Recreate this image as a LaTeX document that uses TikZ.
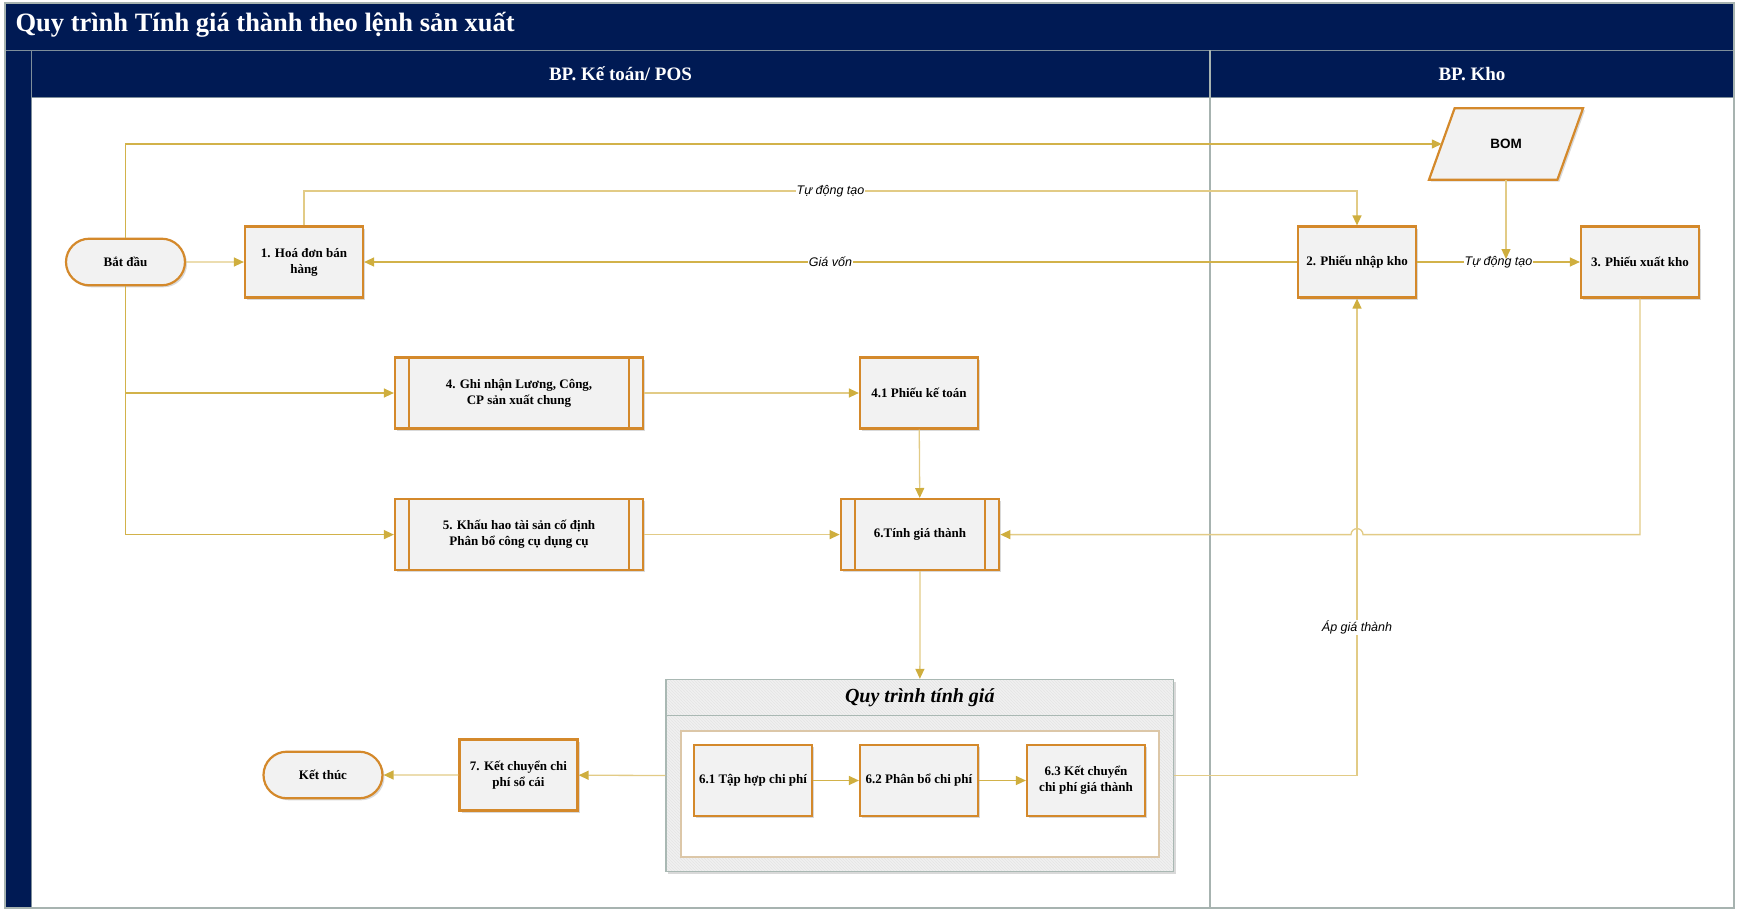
\documentclass[tikz,border=0pt]{standalone}
\usepackage{fontspec}
\setmainfont{Liberation Serif}
\setsansfont{Liberation Sans}
\usepackage{xcolor}
\usepackage{tikz}
\usetikzlibrary{positioning,calc,arrows.meta,shapes.geometric,shapes.misc,patterns,shadows}

\definecolor{navy}{HTML}{001A54}
\definecolor{laneline}{HTML}{7E8E9A}
\definecolor{frameline}{HTML}{A7B3B0}
\definecolor{nodeorange}{HTML}{D4892B}
\definecolor{nodefill}{HTML}{F2F2F2}
\definecolor{flowgold}{HTML}{D2B24A}
\definecolor{flowlight}{HTML}{E2CB86}
\definecolor{tipgold}{HTML}{CFAE3E}
\definecolor{grpborder}{HTML}{A9B8B3}
\definecolor{innerborder}{HTML}{DCC7A8}

\pgfdeclarelayer{background}
\pgfsetlayers{background,main}

\tikzset{
    softshadow/.style={drop shadow={shadow xshift=2pt, shadow yshift=-2pt, opacity=.25, fill=black!60}},
    task/.style={rectangle, draw=nodeorange, line width=2.2pt, fill=nodefill, softshadow,
        minimum width=118pt, minimum height=71pt, align=center, inner sep=2pt,
        font=\bfseries\fontsize{13}{16}\selectfont},
    subproc/.style={task, path picture={
        \draw[nodeorange, line width=2pt]
            ([xshift=14pt]path picture bounding box.north west) -- ([xshift=14pt]path picture bounding box.south west)
            ([xshift=-14pt]path picture bounding box.north east) -- ([xshift=-14pt]path picture bounding box.south east);}},
    terminal/.style={task, rounded rectangle, minimum width=123pt, minimum height=46.6pt},
    datain/.style={rectangle, minimum width=128pt, minimum height=71pt,
        font=\sffamily\bfseries\fontsize{13.5}{16}\selectfont},
    datashape/.style={draw=nodeorange, line width=2.2pt, fill=nodefill, softshadow, line join=miter},
    flow/.style={draw=flowgold, line width=1.3pt, -{Triangle[length=10pt, width=9pt, color=tipgold]}},
    flowpale/.style={flow, draw=flowlight},
    lbl/.style={fill=white, inner sep=1pt, font=\sffamily\itshape\fontsize{12.5}{15}\selectfont},
    lanetitle/.style={text=white, font=\bfseries\fontsize{19}{22}\selectfont},
    group/.style={rectangle, draw=grpborder, line width=1.3pt, preaction={fill=black!6, softshadow},
        pattern=north west lines, pattern color=black!10, minimum width=507.6pt, minimum height=192pt},
}

\begin{document}
\begin{tikzpicture}[x=1pt, y=-1pt]
    \useasboundingbox (0,0) rectangle (1741,916);

    % khung va cac lan
    \fill[navy] (5,3) rectangle (1734,97);
    \fill[navy] (5,97) rectangle (31,908);
    \draw[laneline, line width=1pt] (5,50) -- (1734,50);
    \draw[laneline, line width=1pt] (31,50) -- (31,908);
    \draw[laneline, line width=1pt] (31,97) -- (1734,97);
    \draw[frameline, line width=2pt] (1210,50) -- (1210,908);
    \draw[frameline, line width=1.5pt] (5,3) rectangle (1734,908);

    \node[anchor=west, text=white, font=\bfseries\fontsize{26.5}{30}\selectfont] (title) at (12,25)
        {Quy trình Tính giá thành theo lệnh sản xuất};
    \node[lanetitle] (lane1) at (620.5,74) {BP. Kế toán/ POS};
    \node[lanetitle] (lane2) at (1472,74) {BP. Kho};

    % cac buoc
    \node[terminal] (start) at (125.5,262) {Bắt đầu};
    \node[task] (invoice) at (304,262) {1. Hoá đơn bán\\hàng};
    \node[datain] (bom) at (1506,144) {BOM};
    \begin{pgfonlayer}{background}
        \draw[datashape] ([xshift=12.8pt]bom.north west) -- ([xshift=12.8pt]bom.north east)
            -- ([xshift=-12.8pt]bom.south east) -- ([xshift=-12.8pt]bom.south west) -- cycle;
    \end{pgfonlayer}
    \node[task] (receipt) at (1357,262) {2. Phiếu nhập kho};
    \node[task] (issue) at (1640,262) {3. Phiếu xuất kho};
    \node[subproc, minimum width=248pt] (payroll) at (519,393) {4. Ghi nhận Lương, Công,\\CP sản xuất chung};
    \node[task] (voucher) at (919,393) {4.1 Phiếu kế toán};
    \node[subproc, minimum width=248pt] (deprec) at (519,534.6) {5. Khấu hao tài sản cố định\\Phân bổ công cụ dụng cụ};
    \node[subproc, minimum width=158.5pt] (costing) at (920,534.6) {6.Tính giá thành};

    % quy trinh con
    \node[group] (grp) at (919.8,775.5) {};
    \draw[grpborder, line width=1.3pt] ([yshift=-36.5pt]grp.north west) -- ([yshift=-36.5pt]grp.north east);
    \node[rectangle, draw=innerborder, line width=1.5pt, fill=white, minimum width=478pt, minimum height=126pt] (grpbody) at (919.8,793.8) {};
    \node[font=\bfseries\itshape\fontsize{20}{24}\selectfont] (grptitle) at (919.8,698) {Quy trình tính giá};
    \node[task] (step61) at (753,780.5) {6.1 Tập hợp chi phí};
    \node[task] (step62) at (919,780.5) {6.2 Phân bổ chi phí};
    \node[task] (step63) at (1086,780.5) {6.3 Kết chuyển\\chi phí giá thành};

    \node[task] (ledger) at (518.5,775) {7. Kết chuyển chi\\phí sổ cái};
    \node[terminal] (finish) at (323,775) {Kết thúc};

    % luong
    \draw[flowpale] (start) -- (invoice);
    \draw[flow] (start.north) |- (bom.west);
    \draw[flowpale] (invoice.north) -- (invoice.north |- 0,191) -| (receipt.north)
        node[lbl, pos=0.25] {Tự động tạo};
    \draw[flow] (receipt) -- (invoice) node[lbl, midway] {Giá vốn};
    \draw[flow] (receipt) -- (issue) node[lbl, midway] {Tự động tạo};
    \coordinate (bomjoin) at (bom.south |- 0,259);
    \draw[flowpale] (bom.south) -- (bomjoin);
    \draw[flow] (start.south) |- (deprec.west);
    \draw[flow] (start.south |- payroll.west) -- (payroll.west);
    \draw[flowpale] (payroll) -- (voucher);
    \draw[flowpale] (voucher) -- (costing);
    \draw[flowpale] (deprec) -- (costing);
    \draw[flowpale] (issue.south) |- ([xshift=6pt]receipt.center |- costing.east)
        arc[start angle=0, end angle=180, radius=6pt] -- (costing.east);
    \draw[flowpale] (costing) -- (grp);
    \draw[flowpale] (grp.east) -| (receipt.south) node[lbl, pos=0.655] {Áp giá thành};
    \draw[flowpale] (grp.west) -- (ledger);
    \draw[flowpale] (ledger) -- (finish);
    \draw[flow] (step61) -- (step62);
    \draw[flow] (step62) -- (step63);
\end{tikzpicture}
\end{document}
